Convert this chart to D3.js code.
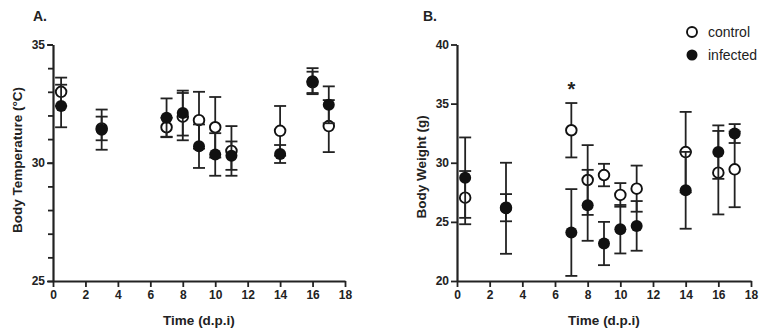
<!DOCTYPE html>
<html>
<head>
<meta charset="utf-8">
<title>Body temperature and body weight</title>
<script src="https://unpkg.com/d3@7/dist/d3.min.js"></script>
<style>
body { margin: 0; background: #fff; }
svg { font-family: "Liberation Sans", Arial, sans-serif; }
.tick text { font-size: 12px; font-weight: bold; fill: #222; }
.axis-title { font-size: 13.5px; font-weight: bold; fill: #222; }
.panel-label { font-size: 14px; font-weight: bold; fill: #222; }
.legend text { font-size: 14px; fill: #222; }
</style>
</head>
<body>
<div id="chart"></div>

<script type="text/javascript">
// days post infection
let days = [0.5, 3, 7, 8, 9, 10, 11, 14, 16, 17];
let xTicks = [0, 2, 4, 6, 8, 10, 12, 14, 16, 18];

// A. body temperature (mean, error)
let tempControl     = [33.0, 31.45, 31.5, 31.95, 31.8, 31.5, 30.5, 31.35, 33.4, 31.55];
let tempControlErr  = [0.6, 0.5, 0.4, 1.0, 1.2, 1.28, 1.05, 1.05, 0.45, 1.1];
let tempInfected    = [32.4, 31.4, 31.9, 32.1, 30.7, 30.35, 30.3, 30.37, 33.45, 32.45];
let tempInfectedErr = [0.9, 0.85, 0.82, 0.95, 0.92, 0.9, 0.6, 0.38, 0.55, 0.78];
let tempTicks = [25, 30, 35];
let tempMinor = [25, 26, 27, 28, 29, 30, 31, 32, 33, 34, 35];

// B. body weight (mean, error)
let weightControl     = [27.05, 26.2, 32.75, 28.54, 28.96, 27.28, 27.81, 30.9, 29.16, 29.44];
let weightControlErr  = [2.25, 1.15, 2.3, 2.95, 0.95, 1.0, 1.95, 3.4, 3.53, 3.2];
let weightInfected    = [28.74, 26.15, 24.1, 26.4, 23.17, 24.38, 24.66, 27.67, 30.9, 32.47];
let weightInfectedErr = [3.4, 3.85, 3.67, 3.0, 1.83, 2.05, 2.1, 3.25, 2.26, 0.8];
let weightTicks = [20, 25, 30, 35, 40];

// significance mark
let starDay = 7, starValue = 36.3;

let legendLabels = ["control", "infected"];

const W = 762, H = 332;
const svg = d3.select("#chart").append("svg")
    .attr("width", W)
    .attr("height", H);

function panel(opts) {
    const x = d3.scaleLinear().domain([0, 18]).range([opts.left, opts.right]);
    const y = d3.scaleLinear().domain(opts.domain).range([281, 44.5]);
    const g = svg.append("g");

    // minor ticks (no labels)
    if (opts.minor) {
        g.append("g")
            .attr("transform", `translate(${opts.left},0)`)
            .call(d3.axisLeft(y).tickValues(opts.minor).tickSize(5).tickFormat(""))
            .call(a => a.select(".domain").remove())
            .selectAll("line").attr("stroke", "#222").attr("stroke-width", 1.8);
    }

    const yAxis = g.append("g")
        .attr("transform", `translate(${opts.left},0)`)
        .call(d3.axisLeft(y).tickValues(opts.ticks).tickSize(6).tickPadding(2).tickSizeOuter(0));

    const xAxis = g.append("g")
        .attr("transform", "translate(0,281)")
        .call(d3.axisBottom(x).tickValues(xTicks).tickSize(6).tickPadding(3).tickSizeOuter(0));

    [xAxis, yAxis].forEach(a => {
        a.select(".domain").attr("stroke", "#222").attr("stroke-width", 2.2);
        a.selectAll(".tick line").attr("stroke", "#222").attr("stroke-width", 1.8);
    });

    // titles
    g.append("text").attr("class", "panel-label")
        .attr("x", opts.labelX).attr("y", 21).text(opts.label);
    g.append("text").attr("class", "axis-title")
        .attr("text-anchor", "middle")
        .attr("x", (opts.left + opts.right) / 2).attr("y", 325)
        .text("Time (d.p.i)");
    g.append("text").attr("class", "axis-title")
        .attr("text-anchor", "middle")
        .attr("transform", `translate(${opts.yTitleX},${opts.yTitleY}) rotate(-90)`)
        .text(opts.yTitle);

    // series: control first, then infected on top
    opts.series.forEach(s => {
        const pts = days.map((d, i) => ({x: d, v: s.values[i], e: s.errors[i]}));
        const bars = g.append("g").selectAll("g").data(pts).join("g")
            .attr("stroke", "#222").attr("stroke-width", 1.8);
        bars.append("line")
            .attr("x1", d => x(d.x)).attr("x2", d => x(d.x))
            .attr("y1", d => y(d.v + d.e)).attr("y2", d => y(d.v - d.e));
        bars.append("line")
            .attr("x1", d => x(d.x) - 6).attr("x2", d => x(d.x) + 6)
            .attr("y1", d => y(d.v + d.e)).attr("y2", d => y(d.v + d.e));
        bars.append("line")
            .attr("x1", d => x(d.x) - 6).attr("x2", d => x(d.x) + 6)
            .attr("y1", d => y(d.v - d.e)).attr("y2", d => y(d.v - d.e));

        g.append("g").selectAll("circle").data(pts).join("circle")
            .attr("cx", d => x(d.x))
            .attr("cy", d => y(d.v))
            .attr("r", s.open ? 5.3 : 6)
            .attr("fill", s.open ? "#fff" : "#111")
            .attr("stroke", "#111")
            .attr("stroke-width", s.open ? 1.9 : 0);
    });

    return {g: g, x: x, y: y};
}

panel({
    left: 53, right: 345, domain: [25, 35],
    ticks: tempTicks, minor: tempMinor,
    label: "A.", labelX: 33,
    yTitle: "Body Temperature (°C)", yTitleX: 22, yTitleY: 160,
    series: [
        {values: tempControl, errors: tempControlErr, open: true},
        {values: tempInfected, errors: tempInfectedErr, open: false}
    ]
});

const pB = panel({
    left: 457, right: 751, domain: [20, 40],
    ticks: weightTicks, minor: null,
    label: "B.", labelX: 423,
    yTitle: "Body Weight (g)", yTitleX: 426, yTitleY: 167,
    series: [
        {values: weightControl, errors: weightControlErr, open: true},
        {values: weightInfected, errors: weightInfectedErr, open: false}
    ]
});

pB.g.append("text")
    .attr("x", pB.x(starDay)).attr("y", pB.y(starValue) + 8)
    .attr("text-anchor", "middle")
    .attr("font-size", 20).attr("font-weight", "bold").attr("fill", "#222")
    .text("*");

// legend
const legend = svg.append("g").attr("class", "legend");
legendLabels.forEach((name, i) => {
    const row = legend.append("g").attr("transform", `translate(692,${32 + i * 23})`);
    row.append("circle").attr("r", i === 0 ? 5 : 5.5)
        .attr("fill", i === 0 ? "#fff" : "#111")
        .attr("stroke", "#111").attr("stroke-width", i === 0 ? 1.9 : 0);
    row.append("text").attr("x", 16).attr("y", 5).text(name);
});
</script>
</body>
</html>
